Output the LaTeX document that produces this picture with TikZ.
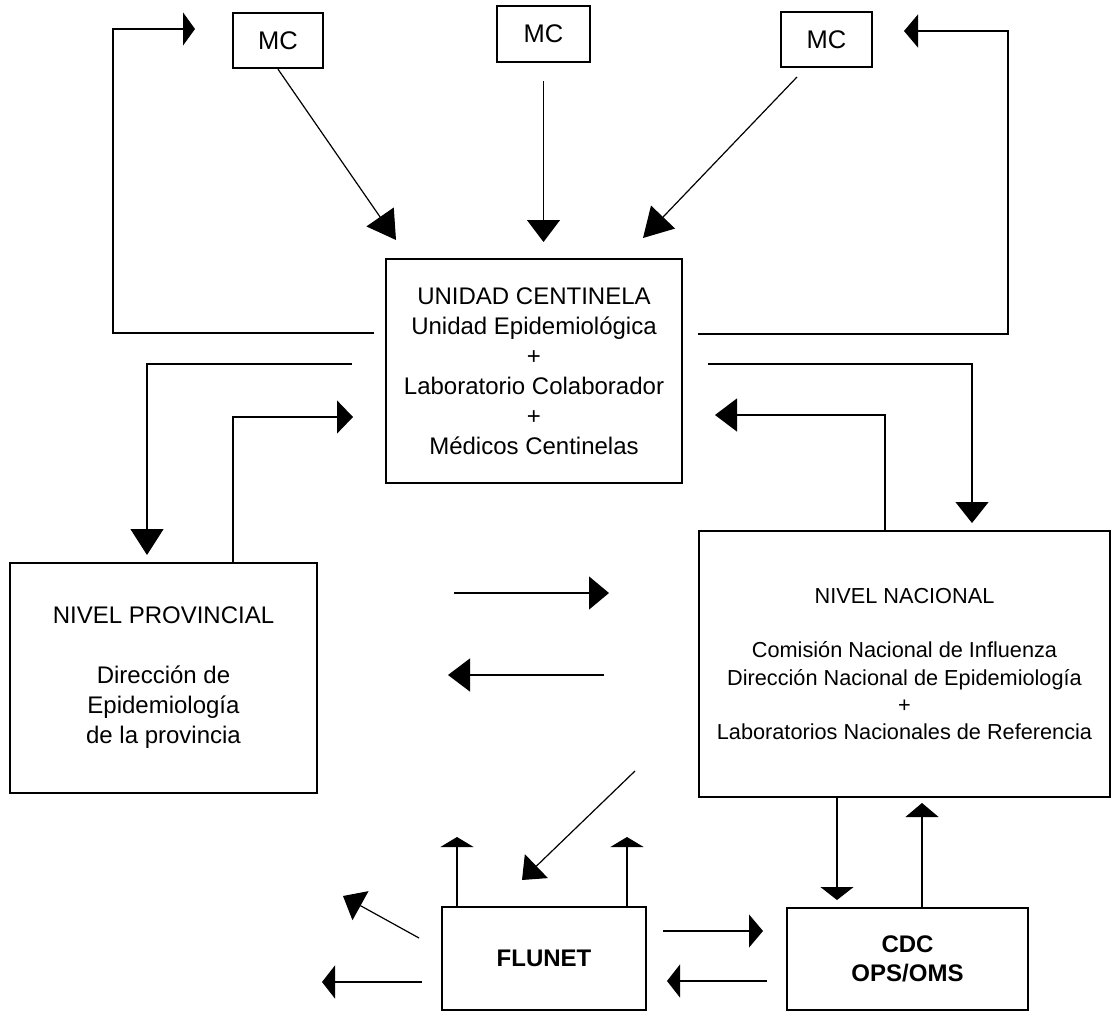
\documentclass[tikz,border=0pt]{standalone}
\usepackage{fontspec}
\setmainfont{Liberation Sans}
\usetikzlibrary{arrows.meta}
\begin{document}
\begin{tikzpicture}[x=1pt,y=-1pt,
  box/.style={draw=black, line width=2.4pt, inner sep=0pt, align=center},
  conn/.style={draw=black, line width=1.2pt},
  arrowhd/.style={-{Triangle[length=#1, width=33pt]}},
  mcfont/.style={font=\fontsize{25.5}{30}\selectfont},
  bigfont/.style={font=\fontsize{24}{30}\selectfont},
  natfont/.style={font=\fontsize{21.7}{27.3}\selectfont},
  boldfont/.style={font=\bfseries\fontsize{24}{29}\selectfont}]
\useasboundingbox (0,0) rectangle (1112,1012);

% boxes
\node[box, mcfont, minimum width=90pt, minimum height=55pt] (mcL) at (278,40.5) {MC};
\node[box, mcfont, minimum width=93pt, minimum height=56pt] (mcM) at (543.5,34) {MC};
\node[box, mcfont, minimum width=91pt, minimum height=55pt] (mcR) at (826.5,39.5) {MC};
\node[box, bigfont, minimum width=296pt, minimum height=224pt] (uc) at (534,371)
  {UNIDAD CENTINELA\\Unidad Epidemiológica\\+\\Laboratorio Colaborador\\+\\Médicos Centinelas};
\node[box, bigfont, minimum width=307pt, minimum height=230pt] (np) at (163.5,678)
  {NIVEL PROVINCIAL\\[30pt]Dirección de\\Epidemiología\\de la provincia};
\node[box, natfont, minimum width=411pt, minimum height=266pt] (nn) at (904.5,664)
  {NIVEL NACIONAL\\[27.3pt]Comisión Nacional de Influenza\\Dirección Nacional de Epidemiología\\+\\Laboratorios Nacionales de Referencia};
\node[box, boldfont, minimum width=204pt, minimum height=103pt] (fl) at (544,958.5) {FLUNET};
\node[box, boldfont, minimum width=241pt, minimum height=102pt] (cdc) at (907.5,959) {CDC\\OPS/OMS};

% free ends of the connectors
\coordinate (mLtip) at (396,240);
\coordinate (mMtip) at (543.5,242);
\coordinate (mRs) at (797,77);
\coordinate (mRtip) at (643,238);
\coordinate (fbLa) at (374,333);
\coordinate (fbLb) at (113,333);
\coordinate (fbLc) at (113,29);
\coordinate (fbLtip) at (195,29);
\coordinate (fbRa) at (698,334);
\coordinate (fbRb) at (1008,334);
\coordinate (fbRc) at (1008,31);
\coordinate (fbRtip) at (904,31);
\coordinate (dnLa) at (352,364);
\coordinate (dnLb) at (147,364);
\coordinate (dnLtip) at (147,555);
\coordinate (upLb) at (233,417);
\coordinate (upLtip) at (353,417);
\coordinate (dnRa) at (708,364);
\coordinate (dnRb) at (972,364);
\coordinate (dnRtip) at (972,523);
\coordinate (upRb) at (885,415);
\coordinate (upRtip) at (715,415);
\coordinate (midRa) at (454,593);
\coordinate (midRtip) at (609,593);
\coordinate (midLa) at (604,675);
\coordinate (midLtip) at (448,675);
\coordinate (dgFa) at (635,771);
\coordinate (dgFtip) at (522,880);
\coordinate (flUpL) at (457,837);
\coordinate (flUpR) at (627,837);
\coordinate (dgLa) at (419,938);
\coordinate (dgLtip) at (343,896);
\coordinate (lfA) at (422,982);
\coordinate (lfTip) at (322,982);
\coordinate (fcA) at (663,931);
\coordinate (fcTip) at (763,931);
\coordinate (cfA) at (767,981);
\coordinate (cfTip) at (667,981);
\coordinate (nnDn) at (837,900);
\coordinate (cdcUp) at (922,803);

% sentinel physicians to the sentinel unit
\draw[conn, arrowhd=28pt] (mcL.south) -- (mLtip);
\draw[conn, arrowhd=22pt, shorten <=18pt] (mcM.south) -- (mMtip);
\draw[conn, arrowhd=29pt] (mRs) -- (mRtip);

% feedback to the physicians
\draw[conn, arrowhd=12pt] (fbLa) -- (fbLb) -- (fbLc) -- (fbLtip);
\draw[conn, arrowhd=14pt] (fbRa) -- (fbRb) -- (fbRc) -- (fbRtip);

% sentinel unit <-> provincial level
\draw[conn, arrowhd=26pt] (dnLa) -- (dnLb) -- (dnLtip);
\draw[conn, arrowhd=16pt] (np.north -| upLb) -- (upLb) -- (upLtip);

% sentinel unit <-> national level
\draw[conn, arrowhd=21pt] (dnRa) -- (dnRb) -- (dnRtip);
\draw[conn, arrowhd=22pt] (nn.north -| upRb) -- (upRb) -- (upRtip);

% provincial <-> national
\draw[conn, arrowhd=20pt] (midRa) -- (midRtip);
\draw[conn, arrowhd=22pt] (midLa) -- (midLtip);

% national level to FLUNET
\draw[conn, arrowhd=20pt] (dgFa) -- (dgFtip);

% FLUNET outputs
\draw[conn, arrowhd=10pt] (fl.north -| flUpL) -- (flUpL);
\draw[conn, arrowhd=10pt] (fl.north -| flUpR) -- (flUpR);
\draw[conn, arrowhd=20pt] (dgLa) -- (dgLtip);
\draw[conn, arrowhd=13pt] (lfA) -- (lfTip);

% FLUNET <-> CDC
\draw[conn, arrowhd=14pt] (fcA) -- (fcTip);
\draw[conn, arrowhd=13pt] (cfA) -- (cfTip);

% national level <-> CDC
\draw[conn, arrowhd=13pt] (nn.south -| nnDn) -- (nnDn);
\draw[conn, arrowhd=14pt] (cdc.north -| cdcUp) -- (cdcUp);
\end{tikzpicture}
\end{document}
